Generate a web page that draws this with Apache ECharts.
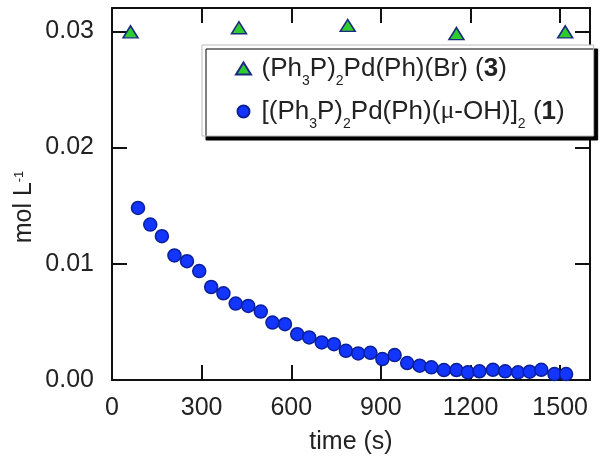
<!DOCTYPE html>
<html>
<head>
<meta charset="utf-8">
<script src="https://cdn.jsdelivr.net/npm/echarts@6/dist/echarts.min.js"></script>
<style>html,body{margin:0;padding:0;background:#fff}#c{width:602px;height:460px}</style>
</head>
<body>
<div id="c"></div>
<script>
// data
var timeBr = [62, 425, 789, 1153, 1517];
var concBr = [0.02995, 0.0303, 0.0305, 0.0298, 0.02995];
var timeOH = [87,128,167,209,251,292,332,373,414,456,498,537,579,620,660,702,743,783,824,865,905,946,988,1030,1069,1111,1153,1191,1230,1275,1316,1359,1398,1437,1481,1520];
var concOH = [0.0148,0.01337,0.01237,0.01071,0.01022,0.00937,0.0080,0.00746,0.00657,0.00637,0.00589,0.00494,0.0048,0.00394,0.00366,0.00323,0.00308,0.00251,0.00229,0.00234,0.0018,0.00214,0.00146,0.00123,0.00109,0.00086,0.00086,0.00066,0.00075,0.00088,0.00075,0.00066,0.00071,0.00088,0.00051,0.00051];
var xTicks = [0, 300, 600, 900, 1200, 1500];
var yTicks = [0.00, 0.01, 0.02, 0.03];
var seriesNames = ['Br', 'OH'];
var legendLabels = {
  Br: '{g| }{n|(Ph}{s|3}{n|P)}{s|2}{n|Pd(Ph)(Br) (}{b|3}{n|)}',
  OH: '{g| }{n|[(Ph}{s|3}{n|P)}{s|2}{n|Pd(Ph)(}{m|\u03bc}{n|-OH)]}{s|2}{n| (}{b|1}{n|)}'
};
var xAxisTitle = 'time (s)';

var FONT = 'Liberation Sans, Arial, sans-serif';
var FS = 25;
var LFS = 26;
var TXT = '#222';

function pair(xs, ys) { return xs.map(function (x, i) { return [x, ys[i]]; }); }

var chart = echarts.init(document.getElementById('c'), null, {renderer: 'canvas'});

var axisCommon = {
  type: 'value',
  splitLine: {show: false},
  axisLine: {show: true, onZero: false, lineStyle: {color: '#111', width: 2}},
  axisTick: {show: true, inside: true, length: 15, lineStyle: {color: '#111', width: 2}}
};

var richLegend = {
  g: {fontSize: 20, fontFamily: FONT, color: TXT, lineHeight: 26, verticalAlign: 'middle'},
  n: {fontSize: LFS, fontFamily: FONT, color: TXT, lineHeight: 26, verticalAlign: 'middle'},
  b: {fontSize: LFS, fontFamily: FONT, color: TXT, fontWeight: 'bold', lineHeight: 26, verticalAlign: 'middle'},
  m: {fontSize: LFS, fontFamily: 'Liberation Serif, serif', color: TXT, lineHeight: 26, verticalAlign: 'middle'},
  s: {fontSize: 14, fontFamily: FONT, color: TXT, lineHeight: 14, verticalAlign: 'middle', padding: [25, 0, 0, 0]}
};

chart.setOption({
  animation: false,
  backgroundColor: '#fff',
  grid: {left: 112, right: 12, top: 8, bottom: 79, containLabel: false},
  xAxis: [
    Object.assign({}, axisCommon, {
      min: xTicks[0], max: 1600, interval: xTicks[1] - xTicks[0], position: 'bottom',
      name: xAxisTitle, nameLocation: 'middle', nameGap: 50,
      nameTextStyle: {fontSize: FS, fontFamily: FONT, color: TXT},
      axisLabel: {show: true, margin: 16, fontSize: FS, fontFamily: FONT, color: TXT, showMaxLabel: false,
        formatter: function (v) { return xTicks.indexOf(v) >= 0 ? String(v) : ''; }}
    }),
    Object.assign({}, axisCommon, {
      min: xTicks[0], max: 1600, interval: xTicks[1] - xTicks[0], position: 'top',
      axisLabel: {show: false}
    })
  ],
  yAxis: [
    Object.assign({}, axisCommon, {
      min: yTicks[0], max: 0.032, interval: 0.01, position: 'left',
      axisLabel: {show: true, margin: 18, fontSize: FS, fontFamily: FONT, color: TXT, showMaxLabel: false,
        formatter: function (v) { return v.toFixed(2); }}
    }),
    Object.assign({}, axisCommon, {
      min: yTicks[0], max: 0.032, interval: 0.01, position: 'right',
      axisLabel: {show: false}
    })
  ],
  legend: {
    orient: 'vertical',
    left: 202, top: 45,
    padding: [4, 29, 5, 33],
    itemGap: 4,
    itemWidth: 15, itemHeight: 12,
    backgroundColor: '#fff',
    borderColor: '#bbb', borderWidth: 1,
    shadowColor: '#000', shadowBlur: 0, shadowOffsetX: 4, shadowOffsetY: 4,
    selectedMode: false,
    data: seriesNames,
    formatter: function (name) { return legendLabels[name]; },
    textStyle: {fontSize: LFS, fontFamily: FONT, color: TXT, rich: richLegend}
  },
  graphic: [{
    type: 'text', x: 24.5, y: 207, rotation: Math.PI / 2,
    style: {
      text: '{a|mol L}{p|-1}',
      align: 'center', verticalAlign: 'middle',
      fill: TXT,
      rich: {
        a: {fontSize: FS, fontFamily: FONT, fill: TXT, lineHeight: 26, verticalAlign: 'middle'},
        p: {fontSize: 13, fontFamily: FONT, fill: TXT, lineHeight: 13, verticalAlign: 'middle', padding: [0, 0, 10, 0]}
      }
    }
  }],
  series: [
    {
      name: seriesNames[0], type: 'scatter', xAxisIndex: 0, yAxisIndex: 0,
      symbol: 'triangle', symbolSize: [15, 12],
      itemStyle: {color: '#2fcc2f', borderColor: '#1b2a80', borderWidth: 1.5, opacity: 1},
      data: pair(timeBr, concBr), z: 5
    },
    {
      name: seriesNames[1], type: 'scatter', xAxisIndex: 0, yAxisIndex: 0,
      symbol: 'circle', symbolSize: 13,
      itemStyle: {color: '#1236ff', borderColor: '#0b1f99', borderWidth: 1.5, opacity: 1},
      data: pair(timeOH, concOH), z: 4
    }
  ]
});
</script>
</body>
</html>
